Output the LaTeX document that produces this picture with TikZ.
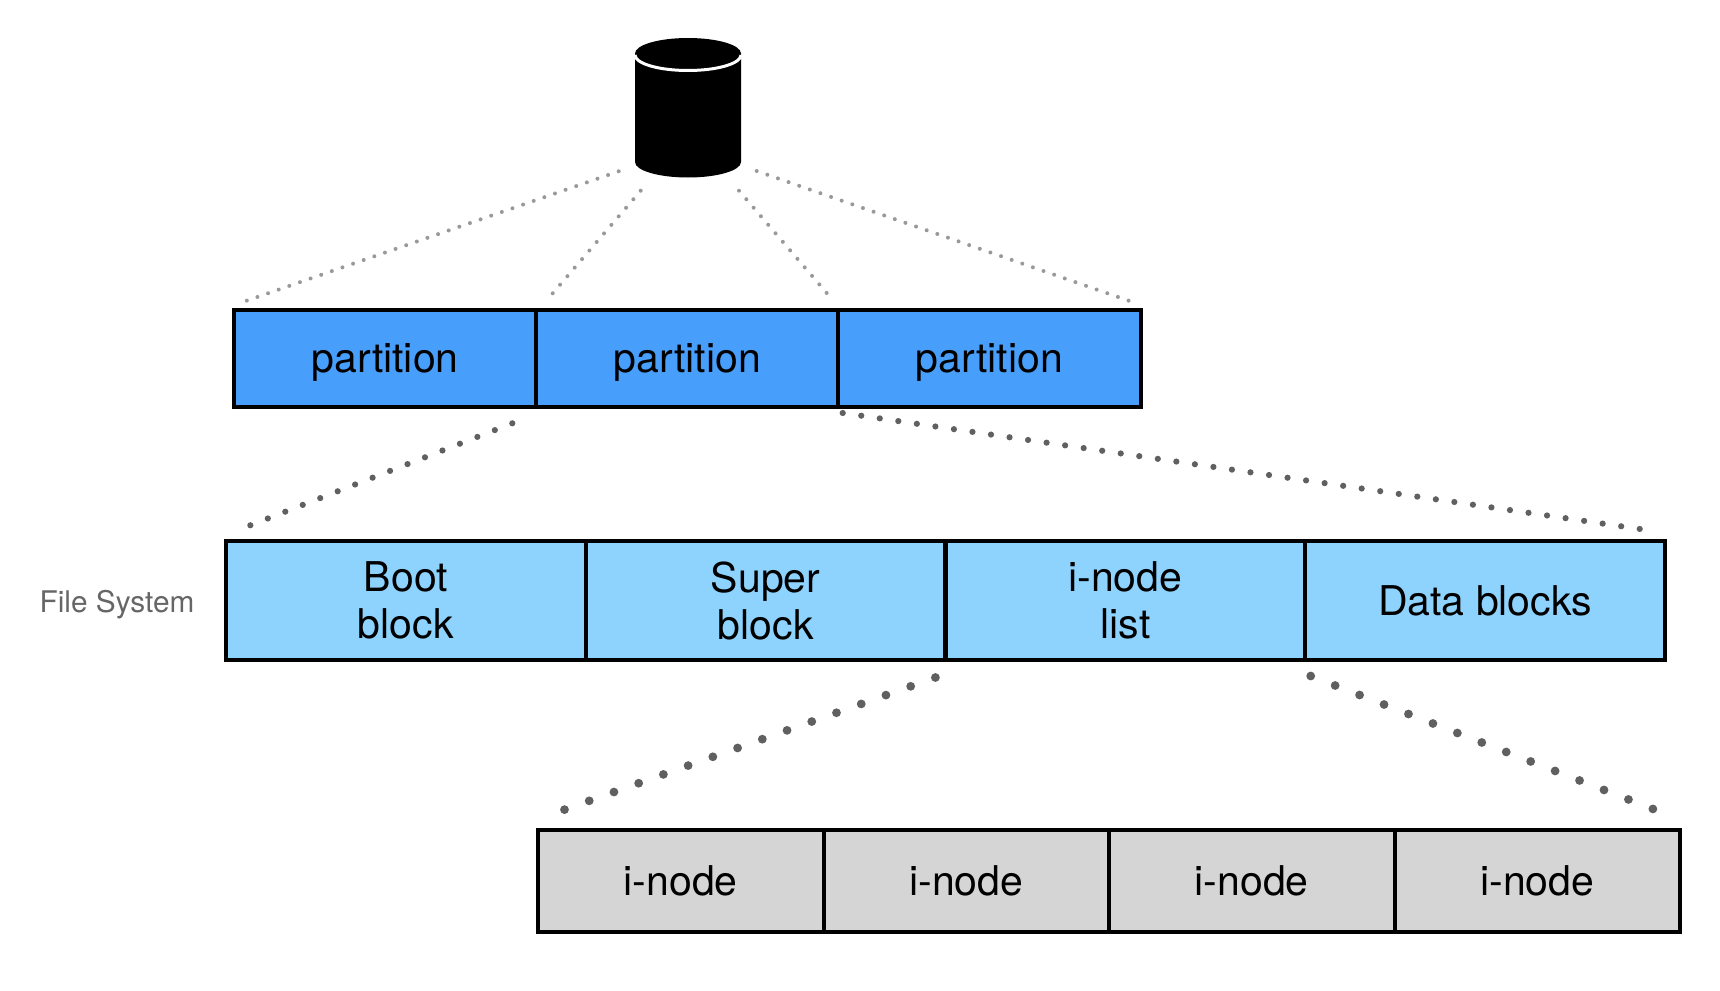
\documentclass[tikz,border=0pt]{standalone}
\usepackage{fontspec}
\setmainfont{TeX Gyre Heros}
\tikzset{
  cell/.style={draw=black,line width=4pt,inner sep=0pt,outer sep=0pt,align=center,text=black,
    font=\fontsize{41}{47}\selectfont,anchor=center},
  partcell/.style={cell,fill=partblue,minimum width=302.2pt,minimum height=97pt,text depth=0pt},
  fscell/.style={cell,fill=fsblue,minimum width=359.75pt,minimum height=119pt},
  inodecell/.style={cell,fill=inodegray,minimum width=285.5pt,minimum height=102pt},
  thin dots/.style={draw=dotlight,line width=4pt,line cap=round},
  mid dots/.style={draw=dotdark,line width=6.2pt,line cap=round},
  big dots/.style={draw=dotdark,line width=8.8pt,line cap=round},
  side label/.style={text=labelgray,font=\fontsize{29.8}{35}\selectfont,inner sep=0pt,anchor=center,text depth=0pt}
}
\definecolor{partblue}{HTML}{479FFB}
\definecolor{fsblue}{HTML}{8ED3FE}
\definecolor{inodegray}{HTML}{D5D5D5}
\definecolor{dotlight}{HTML}{999999}
\definecolor{dotdark}{HTML}{606060}
\definecolor{labelgray}{HTML}{666666}
\begin{document}
\begin{tikzpicture}[x=1pt,y=-1pt]
\useasboundingbox (0,0) rectangle (1720,990);
% disk
\fill[black] (635,53.5) arc[start angle=180,end angle=0,x radius=53pt,y radius=15.5pt]
  -- (741,162) arc[start angle=0,end angle=-180,x radius=53pt,y radius=15.5pt] -- cycle;
\draw[white,line width=3pt] (635,55) arc[start angle=180,end angle=360,x radius=53pt,y radius=15.5pt];
% partitions
\node[partcell] (p1) at (385.1,358.5) {partition};
\node[partcell] (p2) at (687.3,358.5) {partition};
\node[partcell] (p3) at (989.5,358.5) {partition};
% file system
\node[side label] (fslabel) at (117,601) {File System};
\node[fscell] (f1) at (405.9,600.5) {Boot\\block};
\node[fscell] (f2) at (765.6,600.5) {Super\\block};
\node[fscell] (f3) at (1125.4,600.5) {i-node\\list};
\node[fscell] (f4) at (1485.1,600.5) {Data blocks};
% i-nodes
\node[inodecell] (i1) at (680.8,881) {i-node};
\node[inodecell] (i2) at (966.3,881) {i-node};
\node[inodecell] (i3) at (1251.8,881) {i-node};
\node[inodecell] (i4) at (1537.3,881) {i-node};
% connector end points
\coordinate (a1) at (618.7,171.3); \coordinate (a2) at (246.7,300.7);
\coordinate (b1) at (640.7,190.7); \coordinate (b2) at (552.7,293.3);
\coordinate (c1) at (739,190.7);   \coordinate (c2) at (826.7,293);
\coordinate (d1) at (756.7,171);   \coordinate (d2) at (1128.7,300.7);
\coordinate (e1) at (512.3,423.3); \coordinate (e2) at (250.3,525.3);
\coordinate (g1) at (842.7,413);   \coordinate (g2) at (1640,529);
\coordinate (h1) at (935.4,677.5); \coordinate (h2) at (564.3,809.7);
\coordinate (j1) at (1310.7,676);  \coordinate (j2) at (1653,809);
\draw[thin dots,dash pattern=on 0pt off 11.25pt] (a1) -- (a2);
\draw[thin dots,dash pattern=on 0pt off 11.26pt] (b1) -- (b2);
\draw[thin dots,dash pattern=on 0pt off 11.22pt] (c1) -- (c2);
\draw[thin dots,dash pattern=on 0pt off 11.25pt] (d1) -- (d2);
\draw[mid dots,dash pattern=on 0pt off 18.74pt] (e1) -- (e2);
\draw[mid dots,dash pattern=on 0pt off 18.73pt] (g1) -- (g2);
\draw[big dots,dash pattern=on 0pt off 26.25pt] (h1) -- (h2);
\draw[big dots,dash pattern=on 0pt off 26.22pt] (j1) -- (j2);
\end{tikzpicture}
\end{document}
